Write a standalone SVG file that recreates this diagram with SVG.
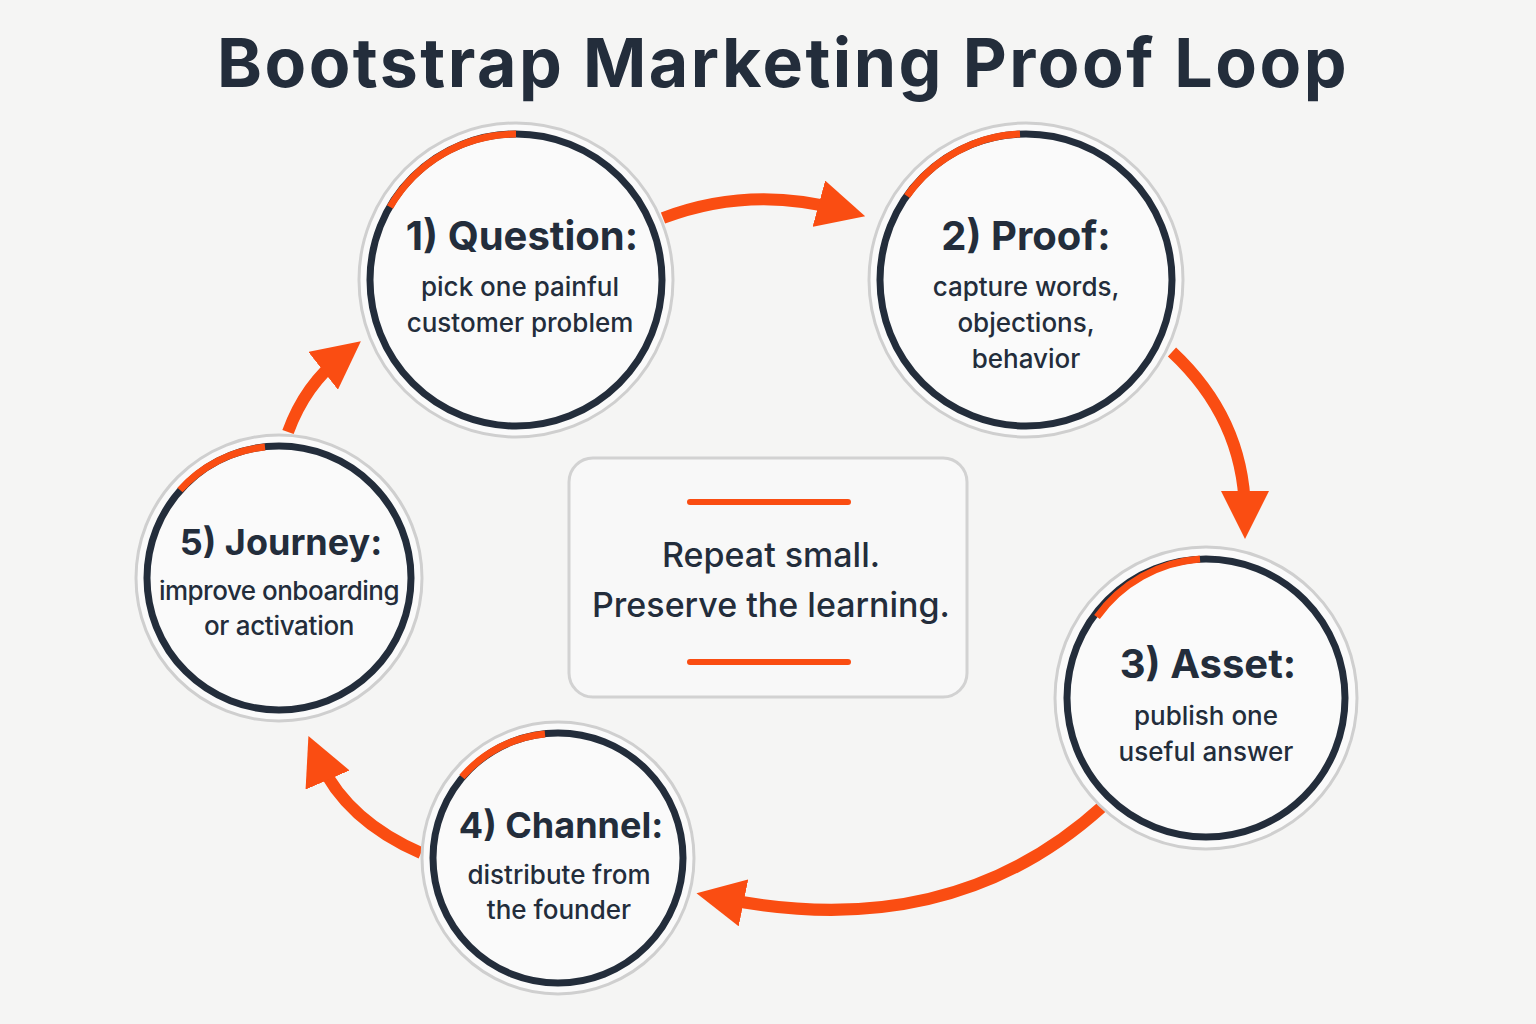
<svg xmlns="http://www.w3.org/2000/svg" width="1536" height="1024" viewBox="0 0 1536 1024">
<defs>
<marker id="ah" viewBox="0 0 10 10" refX="5" refY="5" markerWidth="4" markerHeight="4" orient="auto" markerUnits="strokeWidth">
<path d="M0,0 L10,5 L0,10 z" fill="#fa4d12"/>
</marker>
<style>
.outer{fill:#fafafa;stroke:#cfcfcf;stroke-width:3}
.ring{fill:#fafafa;stroke:#232d3b;stroke-width:7}
.arc{fill:none;stroke:#fa4d12;stroke-width:7}
.h{font-family:"Inter","Liberation Sans",sans-serif;font-weight:700;fill:#232d3b;text-anchor:middle}
.b{font-family:"Inter","Liberation Sans",sans-serif;font-weight:500;fill:#232d3b;text-anchor:middle;font-size:26px}
.con{fill:none;stroke:#fa4d12;stroke-width:12;marker-end:url(#ah)}
</style>
</defs>
<rect width="1536" height="1024" fill="#f5f5f4"/>
<text x="783" y="87" class="h" font-size="68" letter-spacing="2.5">Bootstrap Marketing Proof Loop</text>
<g id="connectors">
<path class="con" d="M663,218 Q750,185 842,210"/>
<path class="con" d="M1172,352 Q1245,420 1245,515"/>
<path class="con" d="M1103,806 Q950,945 720,898"/>
<path class="con" d="M421,853 Q345,820 318,758"/>
<path class="con" d="M288,432 Q305,385 342,356"/>
</g>
<g id="n1">
<circle cx="516" cy="280" r="157" class="outer"/><circle cx="516" cy="280" r="146" class="ring"/>
<path class="arc" d="M516,134 A146,146 0 0 0 390,207"/>
<text x="522" y="250" class="h" font-size="40">1) Question:</text>
<text x="520" y="296" class="b" font-size="25">pick one painful</text><text x="520" y="332" class="b" font-size="25">customer problem</text>
</g>
<g id="n2">
<circle cx="1026" cy="280" r="157" class="outer"/><circle cx="1026" cy="280" r="146" class="ring"/>
<path class="arc" d="M1020,134 A146,146 0 0 0 907,196"/>
<text x="1026" y="250" class="h" font-size="40">2) Proof:</text>
<text x="1026" y="296" class="b">capture words,</text><text x="1026" y="332" class="b">objections,</text><text x="1026" y="368" class="b">behavior</text>
</g>
<g id="n3">
<circle cx="1206" cy="698" r="151" class="outer"/><circle cx="1206" cy="698" r="139" class="ring"/>
<path class="arc" d="M1200,559 A139,139 0 0 0 1097,617"/>
<text x="1208" y="678" class="h" font-size="40">3) Asset:</text>
<text x="1206" y="725" class="b">publish one</text><text x="1206" y="761" class="b">useful answer</text>
</g>
<g id="n4">
<circle cx="558" cy="858" r="136" class="outer"/><circle cx="558" cy="858" r="125" class="ring"/>
<path class="arc" d="M545,734 A125,125 0 0 0 462,777"/>
<text x="561" y="838" class="h" font-size="36">4) Channel:</text>
<text x="559" y="884" class="b" font-size="25">distribute from</text><text x="559" y="919" class="b" font-size="25">the founder</text>
</g>
<g id="n5">
<circle cx="279" cy="578" r="143" class="outer"/><circle cx="279" cy="578" r="132" class="ring"/>
<path class="arc" d="M265,447 A132,132 0 0 0 180,490"/>
<text x="281" y="555" class="h" font-size="36">5) Journey:</text>
<text x="279" y="600" class="b" font-size="24" letter-spacing="-0.5">improve onboarding</text><text x="279" y="635" class="b" font-size="24" letter-spacing="-0.3">or activation</text>
</g>
<g id="center">
<rect x="569" y="458" width="398" height="239" rx="24" fill="#f8f8f8" stroke="#d2d2d2" stroke-width="3"/>
<line x1="690" y1="502" x2="848" y2="502" stroke="#fa4d12" stroke-width="6" stroke-linecap="round"/>
<line x1="690" y1="662" x2="848" y2="662" stroke="#fa4d12" stroke-width="6" stroke-linecap="round"/>
<text x="771" y="567" class="h" font-size="34" style="font-weight:500">Repeat small.</text>
<text x="771" y="617" class="h" font-size="34" style="font-weight:500">Preserve the learning.</text>
</g>
</svg>
